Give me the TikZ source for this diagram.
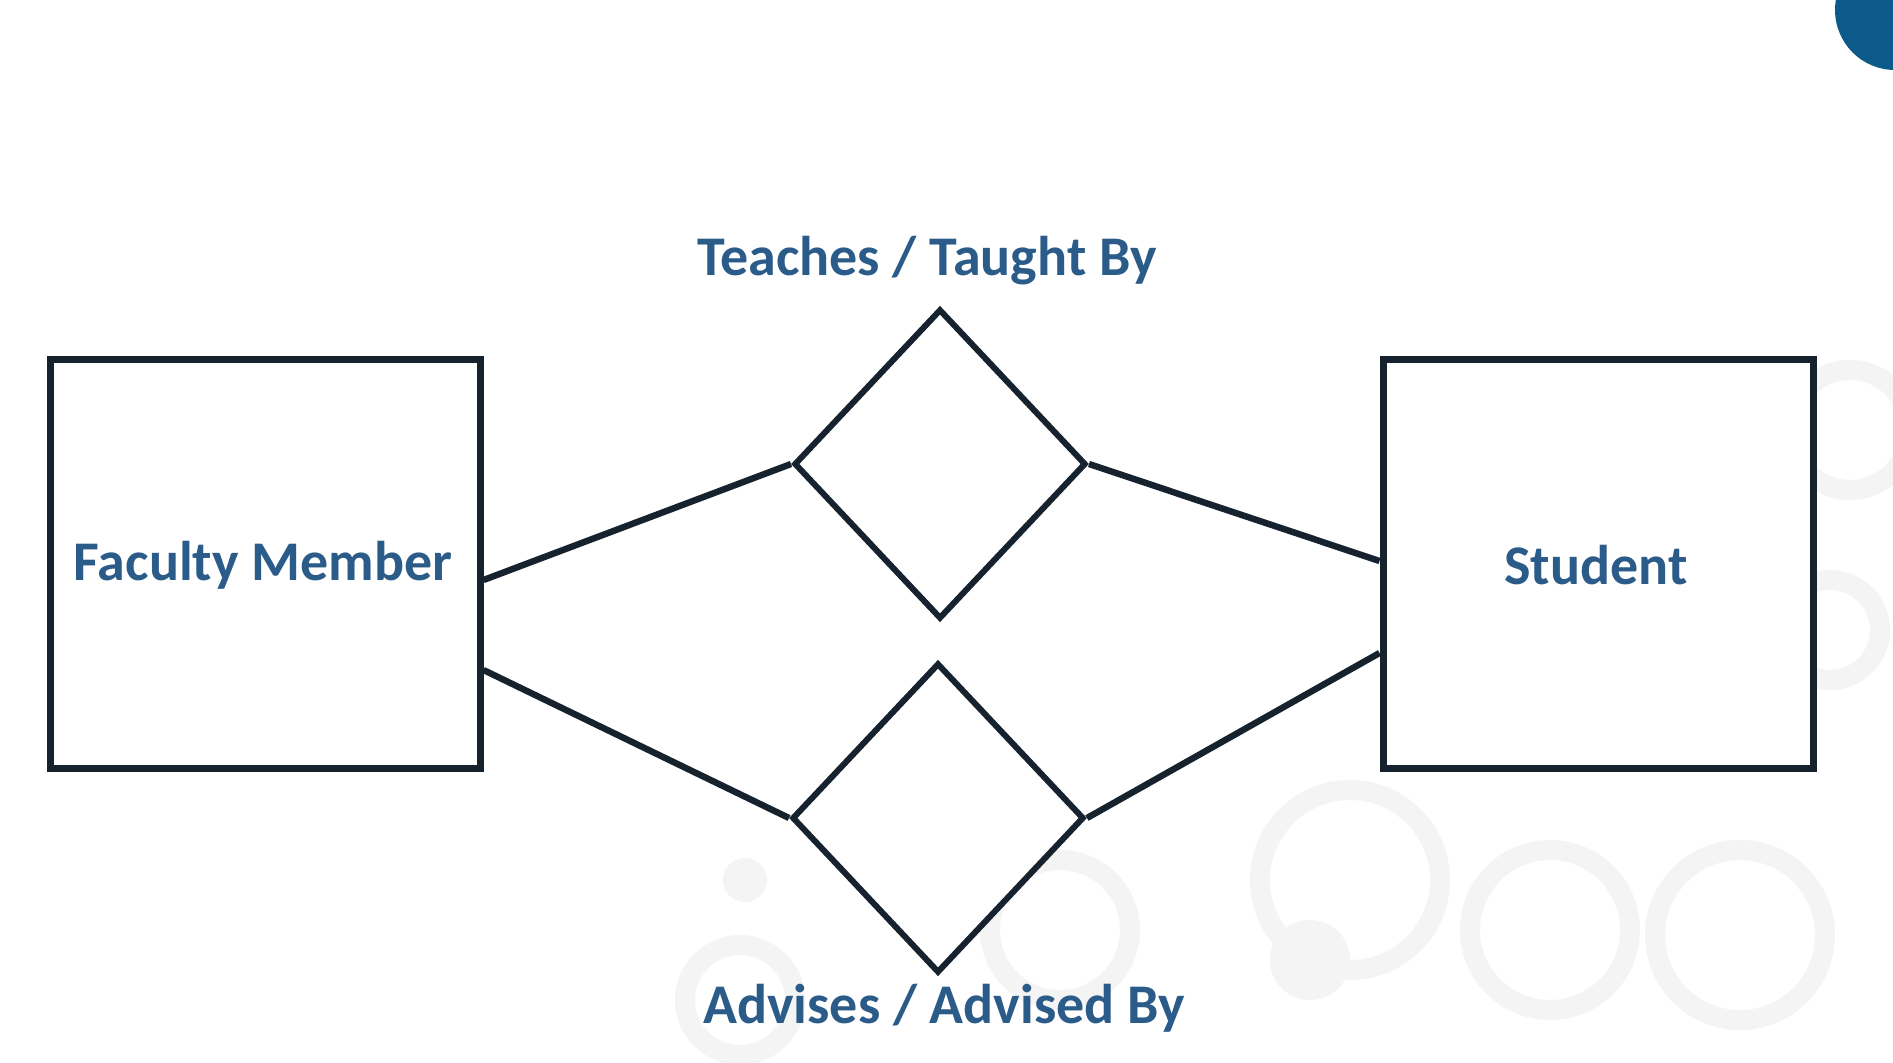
\documentclass[tikz,border=0pt]{standalone}
\usepackage{fontspec}
\setmainfont{Carlito}
\usetikzlibrary{shapes.geometric}
\definecolor{ink}{HTML}{16232F}
\definecolor{txt}{HTML}{2B5B88}
\definecolor{dot}{HTML}{0B5A8A}
\definecolor{ring}{HTML}{F4F4F4}
\begin{document}
\begin{tikzpicture}[x=0.5pt,y=-0.5pt,
  entity/.style={draw=ink,line width=3.5pt,fill=white,rectangle,minimum width=215pt,minimum height=204pt,inner sep=0pt},
  rel/.style={draw=ink,line width=3pt,fill=white,diamond,minimum width=146pt,minimum height=155pt,inner sep=0pt},
  conn/.style={draw=ink,line width=3.2pt},
  lbl/.style={text=txt,font=\fontsize{28pt}{32pt}\selectfont\bfseries,inner sep=0pt},
  deco/.style={draw=ring,line width=10pt}]
\useasboundingbox (0,0) rectangle (1893,1063);
\fill[white] (0,0) rectangle (1893,1063);
% decorative background rings
\draw[deco] (1550,930) circle (80);
\draw[deco] (1740,935) circle (85);
\draw[deco] (1350,880) circle (90);
\draw[deco] (1850,430) circle (60);
\draw[deco] (1060,930) circle (70);
\draw[deco] (740,1000) circle (55);
\draw[deco] (1830,630) circle (50);
\fill[ring] (745,880) circle (22);
\fill[ring] (1310,960) circle (40);
% blue corner dot
\fill[dot] (1895,10) circle (60);
% nodes
\node[entity] (fac) at (265,564) {};
\node[entity] (stu) at (1598,564) {};
\node[lbl] (facl) at (263,565) {Faculty Member};
\node[lbl] (stul) at (1596,565) {Student};
\node[rel] (teach) at (940,464) {};
\node[rel] (adv) at (938,818) {};
\node[lbl] (teachl) at (927,261) {Teaches / Taught By};
\node[lbl] (advl) at (944,1008) {Advises / Advised By};
% connectors
\draw[conn] ([yshift=-8pt]fac.east) -- (teach.west);
\draw[conn] (teach.east) -- ([yshift=1.5pt]stu.west);
\draw[conn] ([yshift=-53pt]fac.east) -- (adv.west);
\draw[conn] (adv.east) -- ([yshift=-44.5pt]stu.west);
\end{tikzpicture}
\end{document}
